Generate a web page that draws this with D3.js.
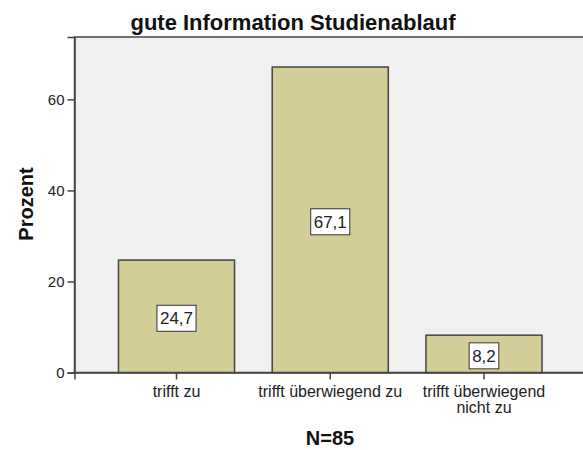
<!DOCTYPE html>
<html>
<head>
<meta charset="utf-8">
<script src="https://cdnjs.cloudflare.com/ajax/libs/d3/7.8.5/d3.min.js"></script>
<style>
  body { margin: 0; background: #fff; }
  text { font-family: Arial, "Liberation Sans", sans-serif; }
</style>
</head>
<body>
<div id="chart"></div>
<script>
const categories = ["trifft zu", "trifft überwiegend zu", "trifft überwiegend nicht zu"];
const values = [24.7, 67.1, 8.2];
const valueLabels = ["24,7", "67,1", "8,2"];
const yTicks = [0, 20, 40, 60];
// category labels split the way the picture wraps them
const catLines = [["trifft zu"], ["trifft überwiegend zu"], ["trifft überwiegend", "nicht zu"]];

const W = 583, H = 450;
const margin = { top: 37, right: -3, bottom: 77.5, left: 74.5 };
const width = W - margin.left - margin.right;
const height = H - margin.top - margin.bottom;

const svg = d3.select("#chart")
  .append("svg")
  .attr("width", W)
  .attr("height", H);

const g = svg.append("g")
  .attr("transform", "translate(" + margin.left + "," + margin.top + ")");

const x = d3.scaleBand()
  .domain(categories)
  .range([0, width])
  .paddingInner(0.245)
  .paddingOuter(0.286);

const y = d3.scaleLinear()
  .domain([0, 73.7])
  .range([height, 0]);

// plot background
g.append("rect")
  .attr("x", 0)
  .attr("y", 0)
  .attr("width", width)
  .attr("height", height)
  .attr("fill", "#f0f0f0")
  .attr("stroke", "#444")
  .attr("stroke-width", 1.5);

// bars
g.selectAll(".bar")
  .data(values)
  .enter()
  .append("rect")
  .attr("class", "bar")
  .attr("x", (d, i) => x(categories[i]))
  .attr("y", d => y(d))
  .attr("width", x.bandwidth())
  .attr("height", d => height - y(d))
  .attr("fill", "#d3ce97")
  .attr("stroke", "#444")
  .attr("stroke-width", 1.5);

// y axis
const yAxis = g.append("g")
  .call(d3.axisLeft(y).tickValues(yTicks).tickSize(7).tickPadding(3));
yAxis.select(".domain").attr("stroke", "#444").attr("stroke-width", 1.5);
yAxis.selectAll(".tick line").attr("stroke", "#444").attr("stroke-width", 1.5);
yAxis.selectAll(".tick text")
  .attr("font-size", "15px")
  .attr("fill", "#222")
  .style("font-family", "Arial, 'Liberation Sans', sans-serif");

// x axis
const xAxis = g.append("g")
  .attr("transform", "translate(0," + height + ")")
  .call(d3.axisBottom(x).tickSize(7).tickFormat(""));
xAxis.select(".domain").attr("stroke", "#444").attr("stroke-width", 1.5);
xAxis.selectAll(".tick line").attr("stroke", "#444").attr("stroke-width", 1.5);

// category labels
categories.forEach((c, i) => {
  const t = g.append("text")
    .attr("x", x(c) + x.bandwidth() / 2)
    .attr("y", height + 24)
    .attr("text-anchor", "middle")
    .attr("font-size", "16px")
    .attr("fill", "#222");
  catLines[i].forEach((line, j) => {
    t.append("tspan")
      .attr("x", x(c) + x.bandwidth() / 2)
      .attr("dy", j === 0 ? 0 : 16)
      .text(line);
  });
});

// value labels in boxes
values.forEach((v, i) => {
  const cx = x(categories[i]) + x.bandwidth() / 2;
  const cy = (y(v) + height) / 2 + 2;
  const lbl = g.append("g");
  const txt = lbl.append("text")
    .attr("x", cx)
    .attr("y", cy)
    .attr("dy", "0.36em")
    .attr("text-anchor", "middle")
    .attr("font-size", "17px")
    .attr("fill", "#222")
    .text(valueLabels[i]);
  const bb = txt.node().getBBox();
  lbl.insert("rect", "text")
    .attr("x", bb.x - 3)
    .attr("y", cy - 13)
    .attr("width", bb.width + 6)
    .attr("height", 26)
    .attr("fill", "#fff")
    .attr("stroke", "#333")
    .attr("stroke-width", 1);
});

// title
svg.append("text")
  .attr("x", 293)
  .attr("y", 30)
  .attr("text-anchor", "middle")
  .attr("font-size", "22px")
  .attr("font-weight", "bold")
  .attr("fill", "#111")
  .text("gute Information Studienablauf");

// y label
svg.append("text")
  .attr("transform", "translate(33,204) rotate(-90)")
  .attr("text-anchor", "middle")
  .attr("font-size", "20px")
  .attr("font-weight", "bold")
  .attr("fill", "#111")
  .text("Prozent");

// x label
svg.append("text")
  .attr("x", 330)
  .attr("y", 445)
  .attr("text-anchor", "middle")
  .attr("font-size", "20px")
  .attr("font-weight", "bold")
  .attr("fill", "#111")
  .text("N=85");
</script>
</body>
</html>
